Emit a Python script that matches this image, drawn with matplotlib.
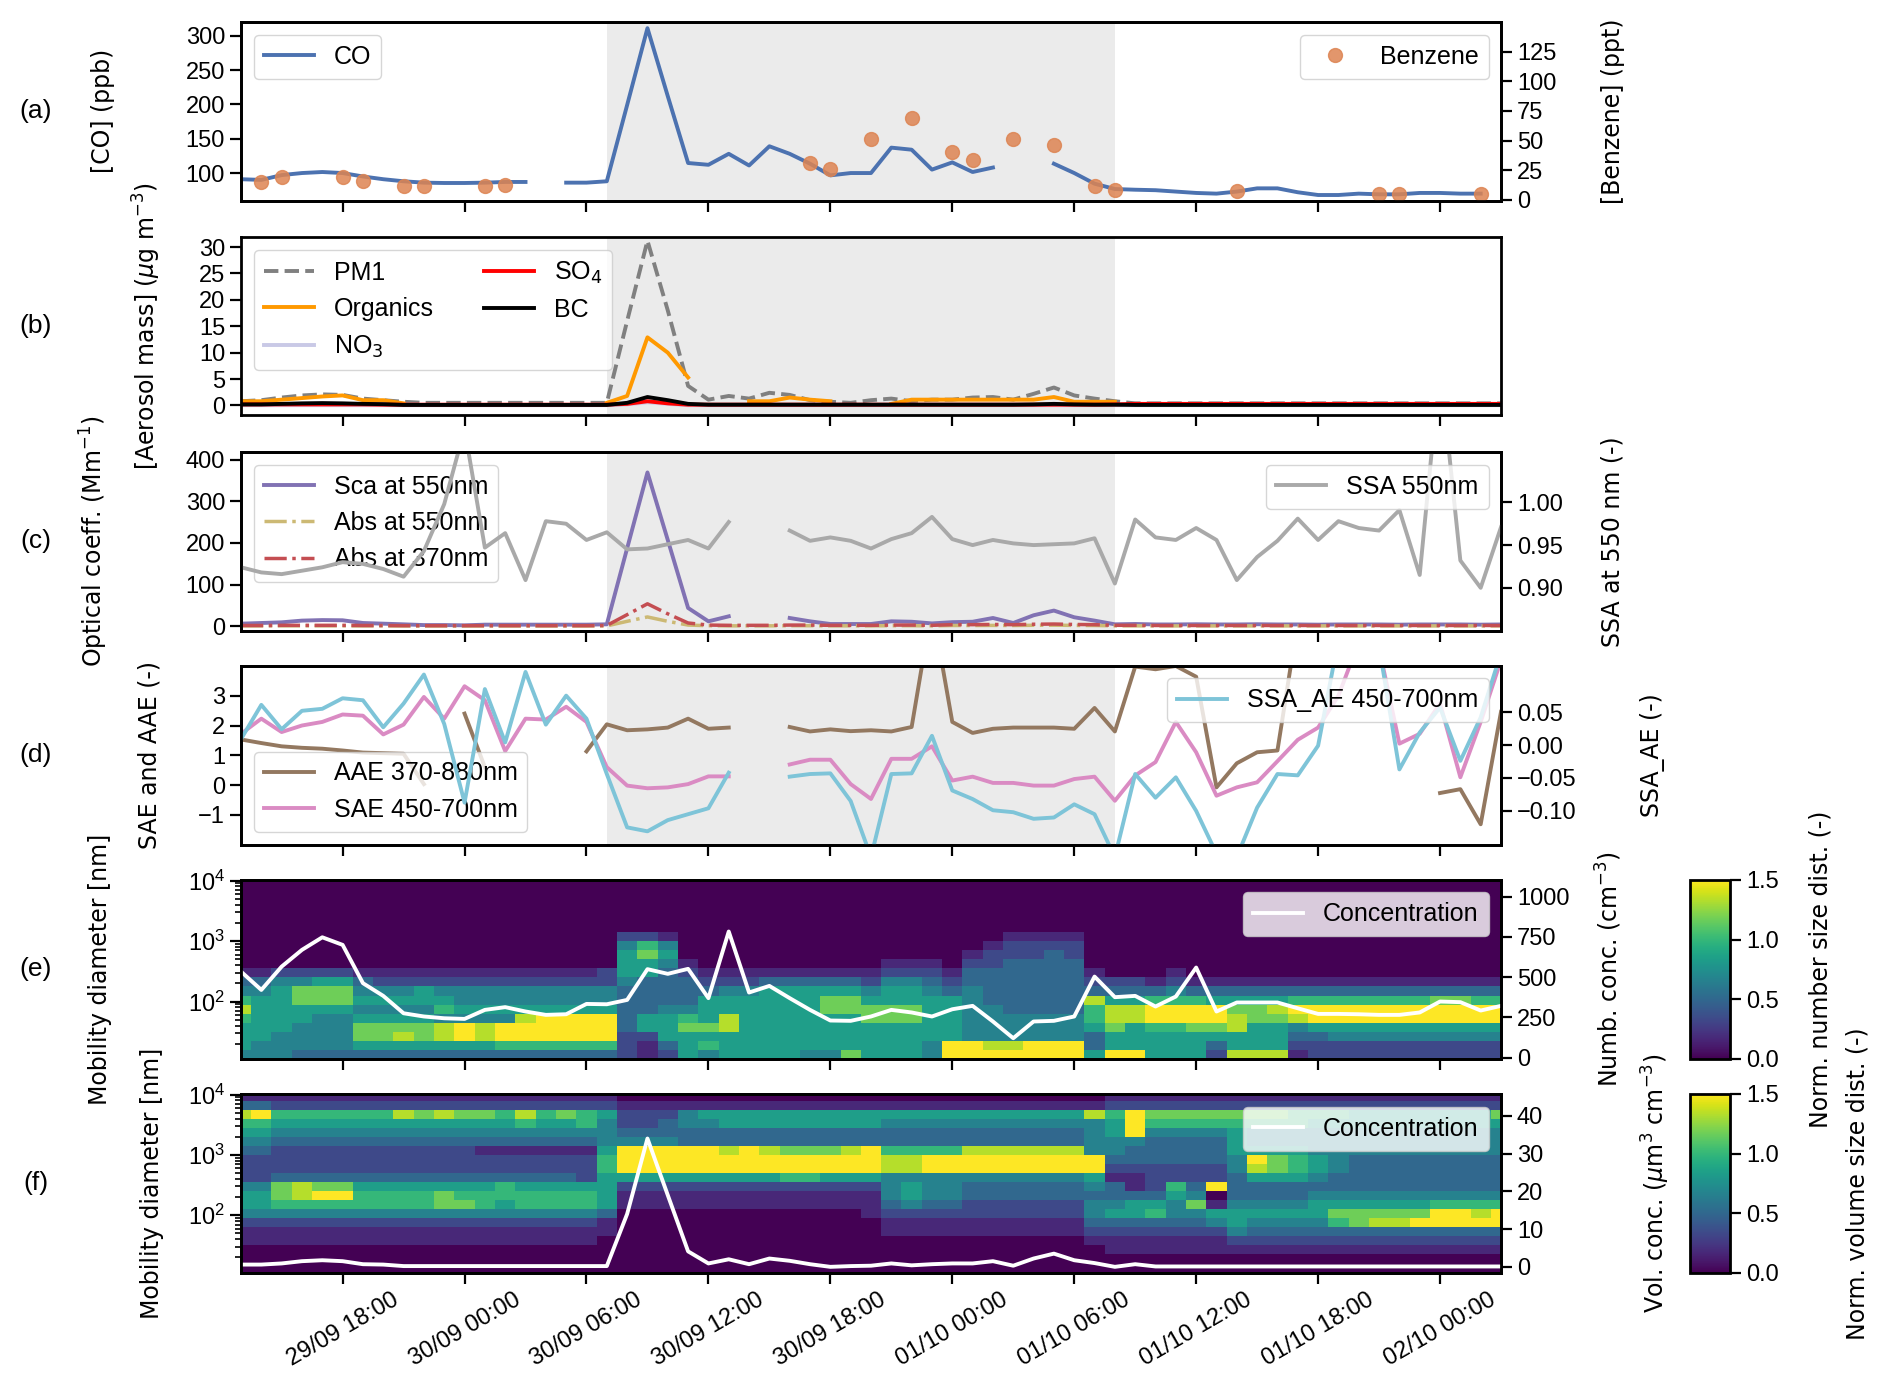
import numpy as np
import pandas as pd
import matplotlib
matplotlib.use('Agg')
import matplotlib.pyplot as plt
import matplotlib.dates as mdates
from matplotlib.ticker import FixedLocator, MultipleLocator, LogLocator, NullFormatter

plt.rcParams['font.family'] = ['Liberation Sans', 'DejaVu Sans']
plt.rcParams['mathtext.fontset'] = 'dejavusans'

nan = np.nan

# hourly time base, 29/09 13:00 -> 02/10 03:00
times = pd.date_range('2021-09-29 13:00', periods=63, freq='h')
event_start = pd.Timestamp('2021-09-30 07:00')
event_end = pd.Timestamp('2021-10-01 08:00')

# (a) gases
co = [91, 90, 97, 100, 101.5, 100, 95, 91, 88, 86,
      85.5, 85.5, 86, 87, 87, nan, 86, 86, 88, 199,
      311, 212, 114.6, 112, 128, 111, 139, 128, 113.6, 96.6,
      100, 100, 137, 134, 105, 115.5, 101.5, 108, nan, nan,
      113.6, 100, 84.5, 76.7, 75.7, 75, 73, 71, 70, 73,
      77.7, 77.7, 72, 68, 68, 70, 69, 69, 71, 71,
      70, 70, nan]
benzene = [nan, 15.5, 19, nan, nan, 19, 16, nan, 12, 12,
           nan, nan, 12, 12.7, nan, nan, nan, nan, nan, nan,
           nan, nan, nan, nan, nan, nan, nan, nan, 31, 26,
           nan, 51, nan, 69, nan, 40, 34, nan, 51, nan,
           46, nan, 12, 8.5, nan, nan, nan, nan, nan, 7.6,
           nan, nan, nan, nan, nan, nan, 5.4, 5.4, nan, nan,
           nan, 5.4, nan]

# (b) aerosol mass
pm1 = [0.8, 1.0, 1.5, 1.9, 2.1, 2.0, 1.3, 1.0, 0.7, 0.5,
       0.5, 0.5, 0.5, 0.5, 0.5, 0.5, 0.5, 0.5, 0.5, 16,
       31.2, 18, 3.7, 1.1, 1.8, 1.3, 2.4, 2.0, 1.0, 0.7,
       0.5, 1.0, 1.3, 0.8, 1.1, 1.1, 1.5, 1.6, 1.1, 2.2,
       3.4, 1.9, 1.3, 0.8, 0.4, 0.4, 0.4, 0.4, 0.4, 0.4,
       0.4, 0.4, 0.4, 0.4, 0.4, 0.4, 0.4, 0.4, 0.4, 0.4,
       0.4, 0.4, 0.4]
organics = [0.8, 0.8, 1.1, 1.4, 1.7, 1.9, 1.0, 1.0, 0.4, nan,
            nan, nan, nan, nan, nan, nan, nan, nan, 0.5, 1.8,
            12.9, 10.0, 5.3, nan, nan, 0.8, 0.8, 1.5, 1.1, 0.8,
            nan, nan, 0.3, 1.1, 1.1, 1.1, 1.1, 1.1, 1.1, 1.1,
            1.6, 0.7, 0.7, 0.7, nan, nan, nan, nan, nan, nan,
            nan, nan, nan, nan, nan, nan, nan, nan, nan, nan,
            nan, nan, nan]
no3 = [0.05, 0.05, 0.05, 0.05, 0.05, 0.05, 0.05, 0.05, 0.05, 0.05,
       0.05, 0.05, 0.05, 0.05, 0.05, 0.05, 0.05, 0.05, 0.05, 0.2,
       0.6, 0.3, 0.05, 0.05, 0.05, 0.05, 0.05, 0.05, 0.05, 0.05,
       0.05, 0.05, 0.05, 0.05, 0.05, 0.05, 0.05, 0.05, 0.05, 0.05,
       0.05, 0.05, 0.05, 0.05, 0.05, 0.05, 0.05, 0.05, 0.05, 0.05,
       0.05, 0.05, 0.05, 0.05, 0.05, 0.05, 0.05, 0.05, 0.05, 0.05,
       0.05, 0.05, 0.05]
so4 = [0.2, 0.2, 0.2, 0.2, 0.2, 0.2, 0.2, 0.15, 0.15, 0.15,
       0.15, 0.15, 0.15, 0.15, 0.15, 0.15, 0.15, 0.15, 0.15, 0.3,
       0.8, 0.4, 0.15, 0.15, 0.15, 0.15, 0.15, 0.15, 0.15, 0.15,
       0.15, 0.15, 0.15, 0.15, 0.15, 0.15, 0.15, 0.15, 0.15, 0.15,
       0.15, 0.15, 0.15, 0.2, 0.3, 0.3, 0.3, 0.3, 0.3, 0.3,
       0.3, 0.3, 0.3, 0.3, 0.3, 0.3, 0.3, 0.3, 0.3, 0.3,
       0.3, 0.3, 0.3]
bc = [0.2, 0.2, 0.3, 0.4, 0.45, 0.4, 0.3, 0.25, 0.1, 0.1,
      0.1, 0.1, 0.1, 0.1, 0.1, 0.1, 0.1, 0.1, 0.1, 0.5,
      1.6, 1.0, 0.3, 0.15, 0.15, 0.15, 0.15, 0.15, 0.15, 0.15,
      0.15, 0.15, 0.15, 0.15, 0.15, 0.15, 0.15, 0.15, 0.15, 0.2,
      0.3, 0.2, 0.15, 0.15, 0.1, 0.1, 0.1, 0.1, 0.1, 0.1,
      0.1, 0.1, 0.1, 0.1, 0.1, 0.1, 0.1, 0.1, 0.1, 0.1,
      0.1, 0.1, 0.1]

# (c) optical coefficients
sca550 = [6.4, 8, 9.6, 13.7, 15, 14.5, 8, 6.4, 4.8, 3,
          3, 2.4, 4, 4, 4, 4, 4, 4, 4.8, 187,
          369, 207, 44, 12, 24, nan, nan, 20, 12, 5.6,
          5.6, 5.6, 12, 11, 7, 10, 11, 20, 8, 26.5,
          37.8, 21.7, 13.7, 4.8, 5.6, 4.5, 4.5, 5, 4.5, 4.5,
          5, 4.5, 4.5, 4, 4.5, 4.5, 4.5, 4, 4.5, 4.5,
          4.5, 4, 4.5]
abs550 = [1, 1, 1.2, 1.2, 1.2, 1.2, 1, 1, 0.8, 0.8,
          0.8, 0.8, 0.8, 0.8, 0.8, 0.8, 0.8, 0.8, 1, 12,
          22.5, 12, 3, 1.5, 1.2, 1.2, 1.2, 1.5, 1.5, 1.2,
          1.2, 1.2, 1.5, 1.5, 1.2, 2, 2, 2.2, 2, 2.5,
          2.8, 2.2, 2, 1.2, 1.2, 1, 1, 1, 1, 1,
          1, 1, 1, 1, 1, 1, 1, 1, 1, 1,
          1, 1, 1]
abs370 = [2, 2, 2.4, 2.4, 2.4, 2.4, 2, 2, 1.6, 1.6,
          1.6, 1.6, 1.6, 1.6, 1.6, 1.6, 1.6, 1.6, 2, 28,
          54, 30, 8, 3, 2.4, 2.4, 2.4, 3, 3, 2.4,
          2.4, 2.4, 3, 3, 2.4, 4, 4, 4.5, 4, 5,
          5.5, 4.5, 4, 2.4, 2.4, 2, 2, 2, 2, 2,
          2, 2, 2, 2, 2, 2, 2, 2, 2, 2,
          2, 2, 2]
ssa550 = [0.924, 0.918, 0.916, 0.920, 0.924, 0.930, 0.928, 0.922, 0.913, 0.943,
          0.998, 1.086, 0.947, 0.964, 0.909, 0.978, 0.975, 0.956, 0.965, 0.945,
          0.946, 0.951, 0.956, 0.946, 0.977, nan, nan, 0.967, 0.955, 0.959,
          0.955, 0.946, 0.957, 0.964, 0.983, 0.957, 0.950, 0.956, 0.952, 0.950,
          0.951, 0.952, 0.958, 0.905, 0.980, 0.959, 0.956, 0.970, 0.956, 0.909,
          0.936, 0.955, 0.981, 0.956, 0.978, 0.970, 0.967, 0.991, 0.915, 1.16,
          0.932, 0.900, 0.971]

# (d) Angstrom exponents
aae = [1.53, 1.41, 1.30, 1.25, 1.22, 1.16, 1.09, 1.07, 1.05, 0.03,
       nan, 2.4, 0.6, nan, nan, nan, nan, 1.13, 2.04, 1.84,
       1.87, 1.93, 2.23, 1.89, 1.93, nan, nan, 1.95, 1.80, 1.87,
       1.81, 1.84, 1.80, 1.95, 6.0, 2.12, 1.75, 1.89, 1.93, 1.93,
       1.93, 1.89, 2.59, 1.80, 3.98, 3.89, 4.0, 3.64, -0.08, 0.73,
       1.10, 1.16, 5.5, nan, nan, nan, nan, nan, nan, -0.27,
       -0.14, -1.32, 2.46]
sae = [1.72, 2.23, 1.78, 2.0, 2.12, 2.37, 2.33, 1.70, 2.03, 2.96,
       2.23, 3.32, 2.85, 1.14, 2.23, 2.2, 2.63, 2.12, 0.6, -0.02,
       -0.11, -0.08, 0.03, 0.29, 0.29, nan, nan, 0.69, 0.85, 0.85,
       0.03, -0.47, 0.88, 0.88, 1.30, 0.15, 0.28, 0.07, 0.07, -0.02,
       -0.02, 0.2, 0.28, -0.53, 0.32, 0.77, 2.12, 1.10, -0.36, -0.08,
       0.09, 0.8, 1.52, 1.93, 3.0, 4.8, 4.6, 1.39, 1.72, 2.74,
       0.26, 2.12, 4.2]
ssa_ae = [0.009, 0.061, 0.024, 0.052, 0.055, 0.071, 0.068, 0.027, 0.063, 0.107,
          0.032, -0.0875, 0.085, 0.004, 0.111, 0.031, 0.075, 0.040, -0.044, -0.125,
          -0.131, -0.114, -0.105, -0.096, -0.042, nan, nan, -0.048, -0.044, -0.043,
          -0.085, -0.17, -0.044, -0.043, 0.014, -0.069, -0.082, -0.099, -0.102, -0.112,
          -0.110, -0.090, -0.105, -0.17, -0.044, -0.080, -0.049, -0.10, -0.165, -0.17,
          -0.095, -0.044, -0.046, -0.001, 0.16, 0.15, 0.15, -0.037, 0.019, 0.057,
          -0.024, 0.042, 0.14]

# (e), (f) total concentrations
numb_conc = [534, 420, 565, 669, 747, 700, 462, 383, 275, 255,
             244, 240, 296, 313, 286, 265, 269, 333, 331, 358,
             549, 520, 551, 369, 783, 404, 445, 369, 296, 230,
             228, 255, 296, 280, 255, 300, 321, 224, 120, 224,
             228, 255, 503, 375, 383, 317, 379, 559, 286, 342,
             342, 342, 306, 271, 271, 269, 265, 265, 280, 348,
             344, 292, 321]
vol_conc = [0.6, 0.6, 0.9, 1.5, 1.75, 1.5, 0.7, 0.6, 0.2, 0.2,
            0.2, 0.2, 0.2, 0.2, 0.2, 0.2, 0.2, 0.2, 0.2, 14,
            34, 19, 4.1, 0.9, 2.0, 0.7, 2.2, 1.6, 0.7, 0.0,
            0.2, 0.3, 0.9, 0.4, 0.7, 0.9, 0.9, 1.5, 0.3, 2.2,
            3.5, 1.75, 1.0, 0.0, 0.7, 0.1, 0.1, 0.1, 0.1, 0.1,
            0.1, 0.1, 0.1, 0.1, 0.1, 0.1, 0.1, 0.1, 0.1, 0.1,
            0.1, 0.1, 0.1]

# size distributions: one string per hour, 20 log-diameter bins from
# 10^1.05 to 10^4.05 nm (smallest first), digit = level, value = level / 6
diam_edges = 10 ** np.linspace(1.05, 4.05, 21)
numb_dist = [
    "45556864310000000000", "44555554310000000000", "44455555420000000000",
    "34445577420000000000", "34444577520000000000", "34444577520000000000",
    "35775454310000000000", "35775454210000000000", "35875454210000000000",
    "35775455210000000000", "35884654210000000000", "35994544210000000000",
    "35884544210000000000", "36994544210000000000", "36998544210000000000",
    "36999544210000000000", "36999544210000000000", "36999544210000000000",
    "36999544220000000000", "22233333455542000000", "11255333355762000000",
    "23555433334541000000", "55576433321000000000", "46575553210000000000",
    "55588554210000000000", "55555554210000000000", "55555555310000000000",
    "55555555310000000000", "45555555310000000000", "45555775310000000000",
    "75555775310000000000", "55557754210000000000", "55557755421000000000",
    "55557755421000000000", "44555554321000000000", "99555553210000000000",
    "99444444332100000000", "98444433332210000000", "98444333333221000000",
    "99444333333221000000", "99444333333321000000", "99444333333221000000",
    "53356683210000000000", "95578853200000000000", "95558853200000000000",
    "55569963100000000000", "55569964210000000000", "55579963100000000000",
    "23579953100000000000", "85588753100000000000", "85557753100000000000",
    "85557853100000000000", "12348963100000000000", "22359963100000000000",
    "22459963100000000000", "22459963100000000000", "22459963100000000000",
    "22459963100000000000", "22459963100000000000", "22459973100000000000",
    "22459973100000000000", "22459963100000000000", "22459963100000000000",
]
vol_dist = [
    "00011245542223456831", "00011245542223456931", "00011246773222345621",
    "00011246883222345621", "00011246973222345621", "00011246973222345621",
    "00011246653222345621", "00011246653222345621", "00011246653222345821",
    "00011246653222345721", "00011247753222345821", "00011247653222345721",
    "00011246653221345721", "00011245663221345621", "00011246653221346821",
    "00011246653221345621", "00011246653221345721", "00011246652221346621",
    "00001135555665444521", "00000001125999432210", "00000001125999432210",
    "00000001125999433210", "00000001125999334410", "00000001125999334510",
    "00000001125998335510", "00000001125999335510", "00000001125998335510",
    "00000001126997335510", "00000001126997335510", "00000001125997335510",
    "00000001125998335510", "00000011125999335510", "00001123444886334510",
    "00001124554886334510", "00001123444996334510", "00001123444996334510",
    "00001122334998334510", "00001122334998334510", "00001122334998334510",
    "00001122334998334510", "00001122334998334510", "00001122334998334510",
    "00012344345994444810", "00112354331234455621", "00112355311233499921",
    "00112365322233346721", "00112344562233346721", "00112347432233346721",
    "00112451092233346721", "00124554333445556721", "00123454335895446721",
    "00123454335775446721", "00123454335665446621", "00123455434554445621",
    "00123675433444445621", "00123775433334445521", "00123875433334445521",
    "00123875433334445521", "00123975433334445521", "00123996433334445521",
    "00123996433334445521", "00123986433334445521", "00123996433334445721",
]


def levels_to_grid(cols):
    grid = np.array([[int(c) for c in s.ljust(20, '0')[:20]] for s in cols], dtype=float)
    return grid.T / 6.0


t = mdates.date2num(times.to_pydatetime())
t_edges = mdates.date2num(pd.date_range('2021-09-29 12:30', periods=64, freq='h').to_pydatetime())
ev0 = mdates.date2num(event_start.to_pydatetime())
ev1 = mdates.date2num(event_end.to_pydatetime())

TICK = 17
LEG = 18
LAB = 17


def style(ax):
    for s in ax.spines.values():
        s.set_linewidth(2)
        s.set_color('black')
    ax.tick_params(which='major', direction='out', length=8, width=1.6, labelsize=TICK)
    ax.tick_params(which='minor', direction='out', length=4, width=1.2)


def ylab(ax, text, x):
    ax.set_ylabel(text, fontsize=LAB, family='DejaVu Sans')
    ax.yaxis.set_label_coords(x, 0.5)


fig = plt.figure(figsize=(18.92, 13.97), dpi=100)
W_PX, H_PX = 1892, 1397
left, width, height = 241 / W_PX, 1260 / W_PX, 178.5 / H_PX
tops = [22, 237, 452, 666, 880, 1094]
axes = []
for top in tops:
    ax = fig.add_axes([left, 1 - (top + 178.5) / H_PX, width, height],
                      sharex=axes[0] if axes else None)
    axes.append(ax)
ax_a, ax_b, ax_c, ax_d, ax_e, ax_f = axes

for ax in axes[:4]:
    ax.axvspan(ev0, ev1, color='#ebebeb', zorder=0, lw=0)

# (a)
ax_a.plot(t, co, color='#4c72b0', lw=2.8, label='CO')
ax_a.set_ylim(60, 320)
ax_a.yaxis.set_major_locator(MultipleLocator(50))
ax_a.legend(loc='upper left', fontsize=LEG)
ylab(ax_a, '[CO] (ppb)', -0.100)
ax_a2 = ax_a.twinx()
ax_a2.plot(t, benzene, 'o', color='#dd8452', ms=10, alpha=0.85, label='Benzene')
ax_a2.set_ylim(-0.5, 150)
ax_a2.yaxis.set_major_locator(FixedLocator([0, 25, 50, 75, 100, 125]))
ax_a2.legend(loc='upper right', fontsize=LEG)
ylab(ax_a2, '[Benzene] (ppt)', 1.079)

# (b)
ax_b.plot(t, pm1, color='grey', ls='--', lw=2.8, label='PM1')
ax_b.plot(t, organics, color='#ff9900', lw=2.8, label='Organics')
ax_b.plot(t, no3, color='#c9c9e6', lw=2.8, label='NO$_3$')
ax_b.plot(t, so4, color='red', lw=2.8, label='SO$_4$')
ax_b.plot(t, bc, color='black', lw=2.8, label='BC')
ax_b.set_ylim(-1.9, 31.9)
ax_b.yaxis.set_major_locator(MultipleLocator(5))
ax_b.legend(loc='upper left', ncol=2, fontsize=LEG)
ylab(ax_b, '[Aerosol mass] ($\\mu$g m$^{-3}$)', -0.062)

# (c)
ax_c.plot(t, sca550, color='#8172b3', lw=2.8, label='Sca at 550nm')
ax_c.plot(t, abs550, color='#ccb974', ls='-.', lw=2.5, label='Abs at 550nm')
ax_c.plot(t, abs370, color='#c44e52', ls='-.', lw=2.5, label='Abs at 370nm')
ax_c.set_ylim(-10, 418)
ax_c.yaxis.set_major_locator(FixedLocator([0, 100, 200, 300, 400]))
ax_c.legend(loc='upper left', fontsize=LEG)
ylab(ax_c, 'Optical coeff. (Mm$^{-1}$)', -0.104)
ax_c2 = ax_c.twinx()
ax_c2.plot(t, ssa550, color='#a9a9a9', lw=2.8, label='SSA 550nm')
ax_c2.set_ylim(0.85, 1.059)
ax_c2.yaxis.set_major_locator(FixedLocator([0.90, 0.95, 1.00]))
ax_c2.legend(loc='upper right', fontsize=LEG)
ylab(ax_c2, 'SSA at 550 nm (-)', 1.079)

# (d)
ax_d.plot(t, aae, color='#937860', lw=2.8, label='AAE 370-880nm')
ax_d.plot(t, sae, color='#da8bc3', lw=2.8, label='SAE 450-700nm')
ax_d.set_ylim(-2.0, 4.0)
ax_d.yaxis.set_major_locator(FixedLocator([-1, 0, 1, 2, 3]))
ax_d.legend(loc='lower left', fontsize=LEG)
ylab(ax_d, 'SAE and AAE (-)', -0.063)
ax_d2 = ax_d.twinx()
ax_d2.plot(t, ssa_ae, color='#7ec4d8', lw=2.8, label='SSA_AE 450-700nm')
ax_d2.set_ylim(-0.151, 0.12)
ax_d2.yaxis.set_major_locator(FixedLocator([-0.10, -0.05, 0.0, 0.05]))
ax_d2.legend(loc='upper right', fontsize=LEG)
ylab(ax_d2, 'SSA_AE (-)', 1.110)

# (e), (f) size distributions
meshes = []
for ax, cols in ((ax_e, numb_dist), (ax_f, vol_dist)):
    m = ax.pcolormesh(t_edges, diam_edges, levels_to_grid(cols), cmap='viridis',
                      vmin=0, vmax=1.5, shading='flat')
    meshes.append(m)
    ax.set_yscale('log')
    ax.yaxis.set_major_locator(LogLocator(base=10, numticks=10))
    ax.yaxis.set_minor_locator(LogLocator(base=10, subs=np.arange(2, 10), numticks=10))
    ax.yaxis.set_minor_formatter(NullFormatter())
ax_e.set_ylim(10 ** 1.06, 10 ** 4.01)
ax_f.set_ylim(10 ** 1.05, 10 ** 4.01)
ylab(ax_e, 'Mobility diameter [nm]', -0.102)
ylab(ax_f, 'Mobility diameter [nm]', -0.061)

ax_e2 = ax_e.twinx()
ax_e2.plot(t, numb_conc, color='white', lw=2.8, label='Concentration')
ax_e2.set_ylim(-6, 1103)
ax_e2.yaxis.set_major_locator(FixedLocator([0, 250, 500, 750, 1000]))
ax_e2.legend(loc='upper right', fontsize=LEG)
ylab(ax_e2, 'Numb. conc. (cm$^{-3}$)', 1.074)

ax_f2 = ax_f.twinx()
ax_f2.plot(t, vol_conc, color='white', lw=2.8, label='Concentration')
ax_f2.set_ylim(-1.5, 45.8)
ax_f2.yaxis.set_major_locator(FixedLocator([0, 10, 20, 30, 40]))
ax_f2.legend(loc='upper right', fontsize=LEG)
ylab(ax_f2, 'Vol. conc. ($\\mu$m$^3$ cm$^{-3}$)', 1.110)

# colorbars
cb_labels = ['Norm. number size dist. (-)', 'Norm. volume size dist. (-)']
cb_lab_x = [2.95, 3.88]
for i, (top, m) in enumerate(zip(tops[4:], meshes)):
    cax = fig.add_axes([1690 / W_PX, 1 - (top + 178.5) / H_PX, 40 / W_PX, height])
    cb = fig.colorbar(m, cax=cax, ticks=[0.0, 0.5, 1.0, 1.5], format='%.1f')
    cb.outline.set_linewidth(2)
    cax.tick_params(direction='out', length=8, width=1.6, labelsize=TICK)
    cb.set_label(cb_labels[i], fontsize=LAB, family='DejaVu Sans')
    cax.yaxis.set_label_coords(cb_lab_x[i], 0.5)

for ax in axes + [ax_a2, ax_c2, ax_d2, ax_e2, ax_f2]:
    style(ax)

ax_f.set_xlim(t[0], t[-1])
ax_f.xaxis.set_major_locator(mdates.HourLocator(byhour=[0, 6, 12, 18]))
ax_f.xaxis.set_major_formatter(mdates.DateFormatter('%d/%m %H:%M'))
for ax in axes[:-1]:
    ax.tick_params(axis='x', labelbottom=False)
ax_f.tick_params(axis='x', labelrotation=30)

for top, letter in zip(tops, 'abcdef'):
    fig.text(0.019, 1 - (top + 89) / H_PX, '(%s)' % letter, fontsize=19,
             ha='center', va='center')

fig.savefig('out.png', dpi=100)
